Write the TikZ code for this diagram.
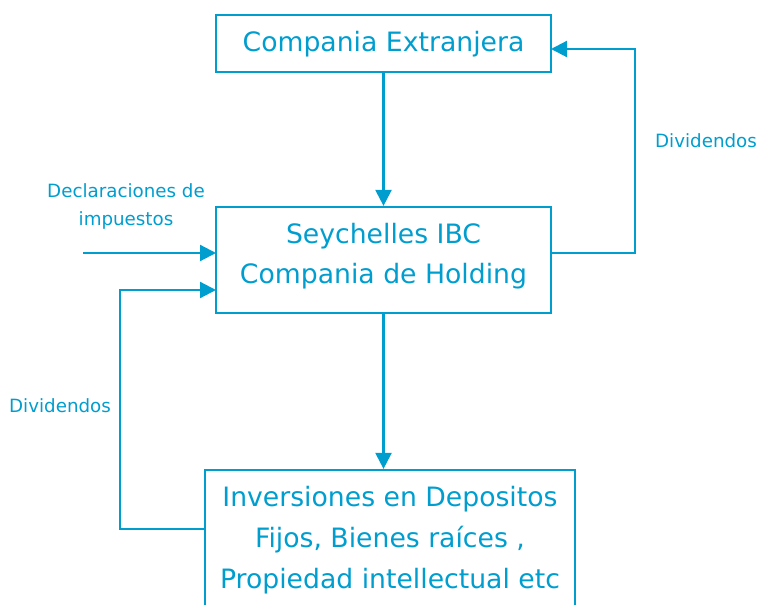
\documentclass[tikz,border=0pt]{standalone}
\usepackage{fontspec}
\setmainfont{DejaVu Sans}
\usetikzlibrary{arrows.meta}
\definecolor{ibc}{RGB}{0,157,207}
\begin{document}
\begin{tikzpicture}[x=0.75pt,y=-0.75pt,
  box/.style={draw=ibc,line width=1.65pt,inner sep=0pt},
  big/.style={text=ibc,inner sep=0pt,anchor=base,font=\fontsize{20}{30}\selectfont},
  lbl/.style={text=ibc,inner sep=0pt,anchor=base,font=\fontsize{13.7}{21}\selectfont},
  conn/.style={draw=ibc,line width=1.65pt},
  arr/.style={conn,-{Triangle[length=12pt,width=12pt]}}]
\useasboundingbox (0,0) rectangle (760,605);
% boxes
\node[box,minimum width=335*0.75pt,minimum height=57*0.75pt] (top) at (383.5,43.5) {};
\node[box,minimum width=335*0.75pt,minimum height=106*0.75pt] (mid) at (383.5,260) {};
\node[box,minimum width=370*0.75pt,minimum height=140*0.75pt] (bot) at (390,540) {};
% box texts
\node[big] (t1) at (383.5,51.5) {Compania Extranjera};
\node[big] (m1) at (383.5,243.5) {Seychelles IBC};
\node[big] (m2) at (383.5,283.5) {Compania de Holding};
\node[big] (b1) at (390,506.5) {Inversiones en Depositos};
\node[big] (b2) at (390,547) {Fijos, Bienes raíces ,};
\node[big] (b3) at (390,588) {Propiedad intellectual etc};
% labels
\node[lbl] (divr) at (706,148) {Dividendos};
\node[lbl] (divl) at (60,413) {Dividendos};
\node[lbl] (decl1) at (126,197.5) {Declaraciones de};
\node[lbl] (decl2) at (126,225.5) {impuestos};
% connectors
\coordinate (r1) at (551,253);
\coordinate (r2) at (635,253);
\coordinate (r3) at (635,49);
\coordinate (r4) at (551,49);
\coordinate (l1) at (205,529);
\coordinate (l2) at (120,529);
\coordinate (l3) at (120,290);
\coordinate (l4) at (216,290);
\coordinate (in0) at (83,253);
\coordinate (in1) at (216,253);
\draw[arr] (top.south) -- (mid.north);
\draw[arr] (mid.south) -- (mid.south |- bot.north);
\draw[arr] (r1) -- (r2) -- (r3) -- (r4);
\draw[arr] (l1) -- (l2) -- (l3) -- (l4);
\draw[arr] (in0) -- (in1);
\end{tikzpicture}
\end{document}
